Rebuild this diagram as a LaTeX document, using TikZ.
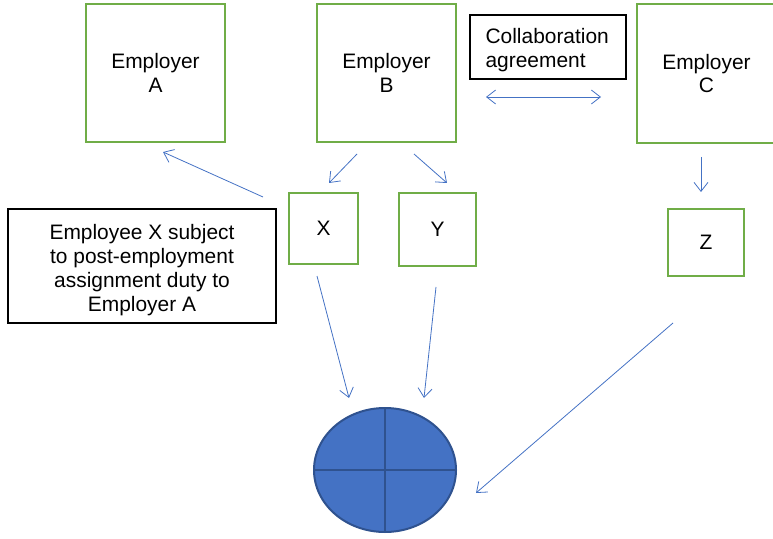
\documentclass[tikz,border=0pt]{standalone}
\usepackage{fontspec}
\setmainfont{Liberation Sans}
\usepackage{xcolor}
\usepackage{tikz}
\usetikzlibrary{arrows.meta,shapes.geometric}
\definecolor{green}{HTML}{70AD47}
\definecolor{blue}{HTML}{4472C4}
\definecolor{navy}{HTML}{2F528F}
\tikzset{
  party/.style={draw=green, line width=1.8bp, rectangle, align=center, font=\fontsize{21}{24}\selectfont},
  note/.style={draw=black, line width=1.2bp, rectangle},
  notetext/.style={font=\fontsize{21}{24}\selectfont, inner sep=0pt},
  flow/.style={draw=blue, line width=0.8bp, -{Straight Barb[length=9bp,width=14bp]}},
  both/.style={draw=blue, line width=0.8bp, {Straight Barb[length=9bp,width=14bp]}-{Straight Barb[length=9bp,width=14bp]}},
}

\begin{document}
\begin{tikzpicture}[x=1bp,y=-1bp]
  \useasboundingbox (0,0) rectangle (773,539);

  \node[party, minimum width=139bp, minimum height=138bp] (empA) at (155.5,73) {Employer\\A};
  \node[party, minimum width=139bp, minimum height=138bp] (empB) at (386.5,73) {Employer\\B};
  \node[party, minimum width=139bp, minimum height=139bp] (empC) at (706.5,73.5) {Employer\\C};

  \node[note, minimum width=156bp, minimum height=64bp] (collab) at (548,47) {};
  \node[notetext, align=left, anchor=west] (collabtxt) at ([xshift=16bp,yshift=-3bp]collab.west) {Collaboration\\agreement};
  \node[note, minimum width=268bp, minimum height=114bp] (duty) at (142,266) {};
  \node[notetext, align=center] (dutytxt) at ([yshift=-4bp]duty.center) {Employee X subject\\to post-employment\\assignment duty to\\Employer A};

  \node[party, minimum width=69bp, minimum height=71bp] (empX) at (323.5,228.5) {X};
  \node[party, minimum width=77bp, minimum height=73bp] (empY) at (437.5,229.5) {Y};
  \node[party, minimum width=76bp, minimum height=67bp] (empZ) at (706,242.5) {Z};

  % pool of rights
  \node[ellipse, draw=navy, fill=blue, line width=2bp, minimum width=142bp, minimum height=124bp, inner sep=0pt] (pool) at (385,470) {};
  \draw[navy, line width=2bp] (pool.north) -- (pool.south);
  \draw[navy, line width=2bp] (pool.west) -- (pool.east);

  \coordinate (agrL) at (486,97);
  \coordinate (agrR) at (601,97);
  \draw[both] (agrL) -- (agrR);

  \coordinate (xA1) at (263,197);  \coordinate (xA2) at (163,152);
  \coordinate (bX1) at (357,154);  \coordinate (bX2) at (329,183);
  \coordinate (bY1) at (414,154);  \coordinate (bY2) at (447,183);
  \coordinate (cZ1) at (701,157);  \coordinate (cZ2) at (701,192);
  \coordinate (xP1) at (317,276);  \coordinate (xP2) at (349,398);
  \coordinate (yP1) at (436,287);  \coordinate (yP2) at (424,398);
  \coordinate (zP1) at (673,323);  \coordinate (zP2) at (476,493);

  \draw[flow] (xA1) -- (xA2);
  \draw[flow] (bX1) -- (bX2);
  \draw[flow] (bY1) -- (bY2);
  \draw[flow] (cZ1) -- (cZ2);
  \draw[flow] (xP1) -- (xP2);
  \draw[flow] (yP1) -- (yP2);
  \draw[flow] (zP1) -- (zP2);
\end{tikzpicture}
\end{document}
